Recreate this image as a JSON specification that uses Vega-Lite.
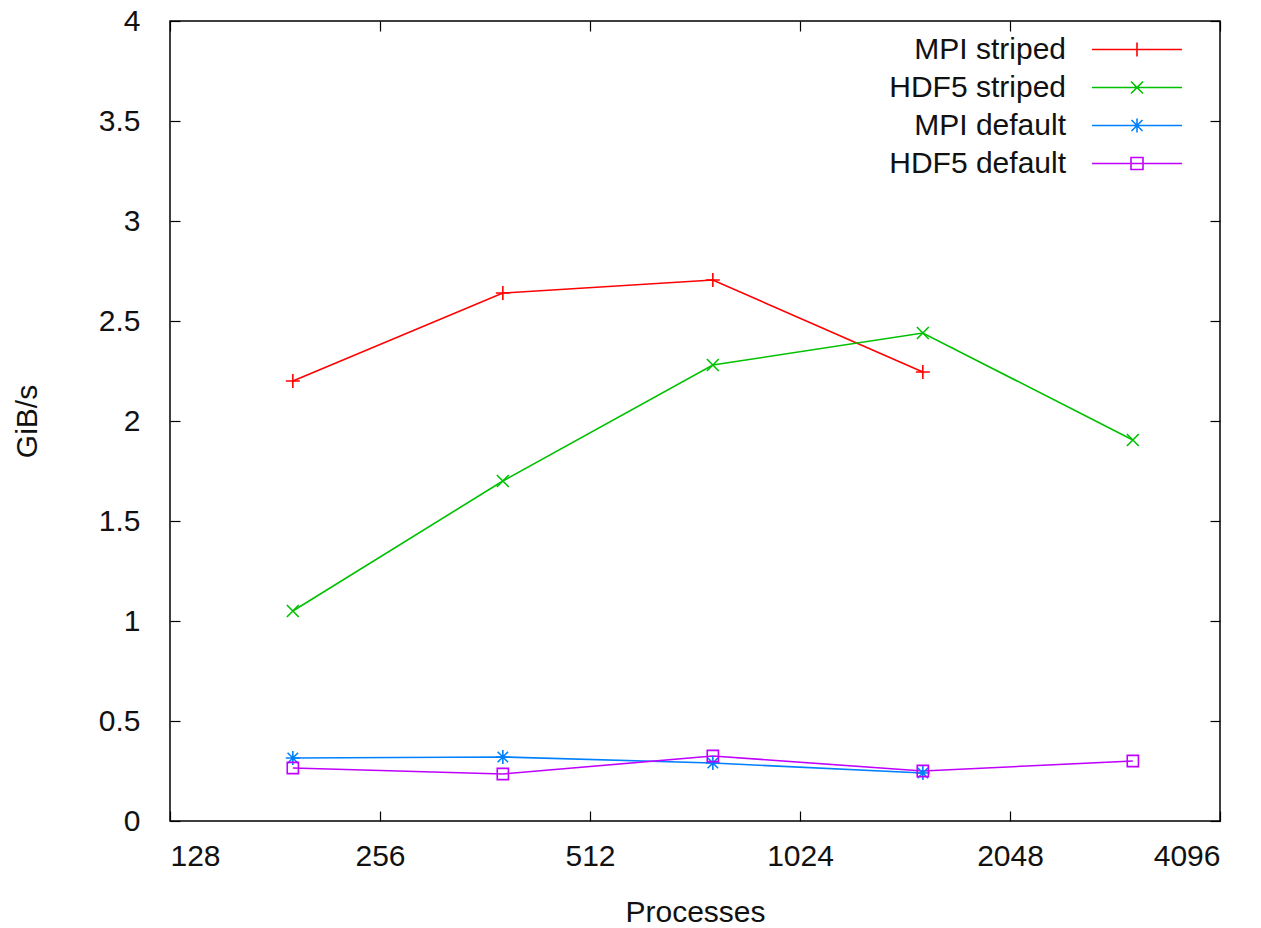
{
  "$schema": "https://vega.github.io/schema/vega-lite/v6.json",
  "width": 1050,
  "height": 800,
  "autosize": "none",
  "padding": {"left": 170, "top": 21, "right": 41, "bottom": 107},
  "background": "white",
  "config": {
    "view": {"stroke": "#000", "strokeWidth": 1.5},
    "font": "Liberation Sans",
    "axis": {"grid": false, "domain": false, "tickColor": "#000", "tickWidth": 1.2, "labelColor": "#111", "titleColor": "#111", "labelFontSize": 30, "titleFontSize": 30, "titleFontWeight": "normal", "labelFont": "Liberation Sans", "titleFont": "Liberation Sans"}
  },
  "data": {
    "values": [
      {"processes": 192, "gibs": 2.20, "series": "MPI striped"},
      {"processes": 384, "gibs": 2.64, "series": "MPI striped"},
      {"processes": 768, "gibs": 2.705, "series": "MPI striped"},
      {"processes": 1536, "gibs": 2.245, "series": "MPI striped"},
      {"processes": 192, "gibs": 1.05, "series": "HDF5 striped"},
      {"processes": 384, "gibs": 1.70, "series": "HDF5 striped"},
      {"processes": 768, "gibs": 2.28, "series": "HDF5 striped"},
      {"processes": 1536, "gibs": 2.44, "series": "HDF5 striped"},
      {"processes": 3072, "gibs": 1.905, "series": "HDF5 striped"},
      {"processes": 192, "gibs": 0.315, "series": "MPI default"},
      {"processes": 384, "gibs": 0.32, "series": "MPI default"},
      {"processes": 768, "gibs": 0.29, "series": "MPI default"},
      {"processes": 1536, "gibs": 0.24, "series": "MPI default"},
      {"processes": 192, "gibs": 0.265, "series": "HDF5 default"},
      {"processes": 384, "gibs": 0.235, "series": "HDF5 default"},
      {"processes": 768, "gibs": 0.325, "series": "HDF5 default"},
      {"processes": 1536, "gibs": 0.25, "series": "HDF5 default"},
      {"processes": 3072, "gibs": 0.30, "series": "HDF5 default"}
    ]
  },
  "resolve": {
    "axis": {"x": "independent", "y": "independent"},
    "scale": {"shape": "independent", "color": "independent"},
    "legend": {"shape": "independent", "color": "independent"}
  },
  "layer": [
    {
      "mark": {"type": "line", "strokeWidth": 1.6},
      "encoding": {
        "x": {
          "field": "processes", "type": "quantitative",
          "scale": {"type": "log", "base": 2, "domain": [128, 4096], "nice": false},
          "axis": {"orient": "bottom", "values": [128, 256, 512, 1024, 2048, 4096], "format": "d", "tickSize": -10, "labelPadding": 30, "title": "Processes", "titlePadding": 26}
        },
        "y": {
          "field": "gibs", "type": "quantitative",
          "scale": {"domain": [0, 4], "nice": false, "zero": true},
          "axis": {"orient": "left", "values": [0, 0.5, 1, 1.5, 2, 2.5, 3, 3.5, 4], "format": "~g", "tickSize": -10, "labelPadding": 40, "title": "GiB/s", "titlePadding": 56}
        },
        "color": {
          "field": "series", "type": "nominal", "legend": null,
          "scale": {"domain": ["MPI striped", "HDF5 striped", "MPI default", "HDF5 default"], "range": ["#ff0000", "#00c000", "#0080ff", "#c000ff"]}
        }
      }
    },
    {
      "mark": {"type": "point", "filled": false, "strokeWidth": 1.6, "size": 196, "opacity": 1},
      "encoding": {
        "x": {
          "field": "processes", "type": "quantitative",
          "axis": {"orient": "top", "values": [128, 256, 512, 1024, 2048, 4096], "labels": false, "tickSize": -10, "title": null}
        },
        "y": {
          "field": "gibs", "type": "quantitative",
          "axis": {"orient": "right", "values": [0, 0.5, 1, 1.5, 2, 2.5, 3, 3.5, 4], "labels": false, "tickSize": -10, "title": null}
        },
        "color": {
          "field": "series", "type": "nominal", "legend": null,
          "scale": {"domain": ["MPI striped", "HDF5 striped", "MPI default", "HDF5 default"], "range": ["#ff0000", "#00c000", "#0080ff", "#c000ff"]}
        },
        "shape": {
          "field": "series", "type": "nominal", "legend": null,
          "scale": {"domain": ["MPI striped", "HDF5 striped", "MPI default", "HDF5 default"], "range": ["M-1,0H1M0,-1V1", "M-0.85,-0.85L0.85,0.85M-0.85,0.85L0.85,-0.85", "M-1,0H1M0,-1V1M-0.75,-0.75L0.75,0.75M-0.75,0.75L0.75,-0.75", "M-0.8,-0.8H0.8V0.8H-0.8Z"]}
        }
      }
    },
    {
      "mark": {"type": "point", "filled": false, "strokeWidth": 1.6, "opacity": 0},
      "encoding": {
        "x": {"field": "processes", "type": "quantitative", "axis": null},
        "y": {"field": "gibs", "type": "quantitative", "axis": null},
        "color": {
          "field": "series", "type": "nominal", "title": null,
          "scale": {"domain": ["MPI striped", "HDF5 striped", "MPI default", "HDF5 default"], "range": ["#ff0000", "#00c000", "#0080ff", "#c000ff"]},
          "legend": {
            "title": null,
            "orient": "none",
            "legendX": 866,
            "legendY": 13.5,
            "padding": 0,
            "labelFontSize": 30,
            "labelColor": "#111",
            "labelFont": "Liberation Sans",
            "labelLimit": 400,
            "labelAlign": "right",
            "labelOffset": 0,
            "symbolSize": 4,
            "symbolStrokeWidth": 1.6,
            "symbolOpacity": 1,
            "rowPadding": 8
          }
        },
        "shape": {
          "field": "series", "type": "nominal", "title": null,
          "scale": {"domain": ["MPI striped", "HDF5 striped", "MPI default", "HDF5 default"], "range": ["M41,0H131M86,-7V7", "M41,0H131M80,-6L92,6M80,6L92,-6", "M41,0H131M86,-7V7M80.5,-5.5L91.5,5.5M80.5,5.5L91.5,-5.5", "M41,0H131M80,-6H92V6H80Z"]},
          "legend": {
            "title": null,
            "orient": "none",
            "legendX": 866,
            "legendY": 13.5,
            "padding": 0,
            "labelFontSize": 30,
            "labelColor": "#111",
            "labelFont": "Liberation Sans",
            "labelLimit": 400,
            "labelAlign": "right",
            "labelOffset": 0,
            "symbolSize": 4,
            "symbolStrokeWidth": 1.6,
            "symbolOpacity": 1,
            "rowPadding": 8
          }
        }
      }
    }
  ]
}
